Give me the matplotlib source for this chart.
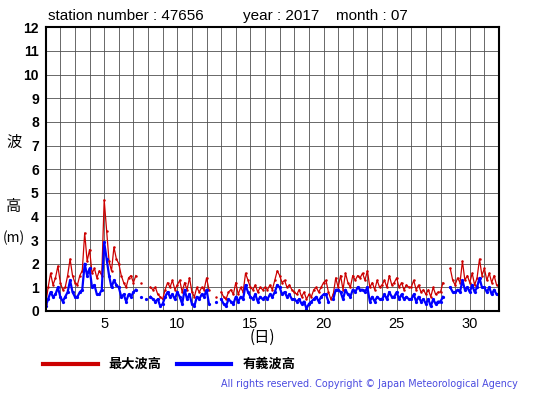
import numpy as np
import matplotlib
matplotlib.use('Agg')
import matplotlib.pyplot as plt

nan = np.nan

# 4-hourly samples, 6 per day, starting day 1 00h
max_wave = [
    0.3, 1.0, 1.6, 1.1, 1.4, 1.9,
    1.2, 0.9, 1.0, 1.5, 2.2, 1.5,
    1.2, 1.1, 1.5, 1.7, 3.3, 2.1,
    2.6, 1.6, 1.8, 1.4, 1.7, 1.5,
    4.7, 3.4, 2.1, 1.7, 2.7, 2.2,
    2.0, 1.5, 1.2, 1.0, 1.4, 1.5,
    1.2, 1.5, nan, 1.2, nan, nan,
    nan, 1.0, 0.9, 1.0, 0.7, 0.6,
    0.5, 0.9, 1.2, 1.0, 1.3, 0.9,
    1.1, 1.3, 0.8, 1.2, 0.9, 1.4,
    0.8, 0.6, 1.0, 0.8, 1.0, 0.9,
    1.4, 0.9, nan, nan, 0.6, nan,
    0.8, 0.6, 0.5, 0.8, 0.9, 0.7,
    1.2, 0.7, 1.0, 0.8, 1.6, 1.3,
    1.0, 0.9, 1.1, 0.8, 1.0, 0.9,
    1.0, 0.9, 1.1, 0.9, 1.3, 1.7,
    1.5, 1.2, 1.3, 1.0, 1.1, 0.9,
    0.8, 0.7, 0.9, 0.6, 0.8, 0.5,
    0.7, 0.6, 0.9, 1.0, 0.8, 1.0,
    1.2, 1.3, 0.8, 0.5, 0.7, 1.4,
    1.0, 1.5, 0.9, 1.6, 1.2, 1.0,
    1.5, 1.3, 1.5, 1.4, 1.6, 1.3,
    1.7, 1.0, 1.2, 0.9, 1.3, 1.0,
    1.1, 1.3, 1.0, 1.5, 1.1, 1.2,
    1.4, 1.0, 1.2, 0.9, 1.1, 1.0,
    1.0, 1.3, 0.9, 1.1, 0.8, 0.9,
    0.7, 0.9, 0.6, 1.0, 0.7, 0.8,
    0.8, 1.2, nan, nan, 1.8, 1.3,
    1.1, 1.4, 1.2, 2.1, 1.3, 1.5,
    1.2, 1.6, 1.1, 1.4, 2.2, 1.5,
    1.8, 1.3, 1.6, 1.2, 1.5, 1.1,
]
sig_wave = [
    0.2, 0.5, 0.8, 0.6, 0.7, 1.0,
    0.6, 0.4, 0.6, 0.8, 1.3, 0.8,
    0.6, 0.6, 0.8, 0.9, 2.0, 1.5,
    1.8, 1.0, 1.1, 0.7, 0.7, 0.9,
    2.9, 2.2, 1.5, 1.0, 1.3, 1.1,
    1.0, 0.6, 0.7, 0.4, 0.7, 0.6,
    0.8, 0.9, nan, 0.6, nan, 0.5,
    nan, 0.6, 0.5, 0.4, 0.5, 0.2,
    0.3, 0.6, 0.8, 0.6, 0.7, 0.5,
    0.8, 0.6, 0.3, 0.9, 0.5, 0.7,
    0.3, 0.2, 0.6, 0.5, 0.7, 0.6,
    0.9, 0.3, nan, nan, 0.4, nan,
    0.5, 0.3, 0.2, 0.5, 0.4, 0.3,
    0.6, 0.4, 0.6, 0.5, 1.1, 0.8,
    0.6, 0.5, 0.7, 0.4, 0.6, 0.5,
    0.6, 0.5, 0.7, 0.6, 0.8, 1.1,
    1.0, 0.7, 0.8, 0.6, 0.7, 0.5,
    0.5, 0.4, 0.5, 0.3, 0.4, 0.1,
    0.3, 0.4, 0.5, 0.6, 0.4, 0.6,
    0.7, 0.7, 0.4, nan, 0.5, 0.9,
    0.9, 0.8, 0.5, 0.9, 0.7, 0.6,
    0.9, 0.8, 1.0, 0.9, 0.9, 0.8,
    1.0, 0.4, 0.6, 0.4, 0.6, 0.5,
    0.5, 0.7, 0.5, 0.8, 0.6, 0.6,
    0.8, 0.5, 0.7, 0.5, 0.6, 0.5,
    0.5, 0.7, 0.4, 0.6, 0.4, 0.5,
    0.3, 0.5, 0.2, 0.5, 0.3, 0.4,
    0.4, 0.6, nan, nan, 1.0, 0.8,
    0.8, 0.9, 0.8, 1.3, 0.9, 1.0,
    0.8, 1.1, 0.8, 1.0, 1.4, 1.0,
    1.0, 0.8, 1.0, 0.7, 0.9, 0.7,
]
day_ticks = [5, 10, 15, 20, 25, 30]
height_ticks = list(range(13))

W, H = 555, 395
def fx(x):
    return x / W
def fy(y):
    return 1 - y / H

days = 1 + np.arange(len(max_wave)) / 6.0

fig = plt.figure(figsize=(5.55, 3.95), dpi=100)
ax = fig.add_axes([fx(45.7), fy(311), fx(499) - fx(45.7), fy(27.3) - fy(311)])

ax.plot(days, max_wave, color='#cc0000', lw=0.9, marker='o', ms=0.8)
ax.plot(days, sig_wave, color='#0000ff', lw=1.6, marker='o', ms=1.3)

ax.set_xlim(1, 32)
ax.set_ylim(0, 12)
ax.set_xticks(range(1, 33), minor=True)
ax.set_xticks(day_ticks)
ax.set_yticks(height_ticks)
ax.grid(True, which='both', color='#505050', lw=0.6)
ax.set_axisbelow(True)
ax.tick_params(which='both', length=0)
ax.tick_params(axis='x', pad=4, labelsize=10.5)
ax.tick_params(axis='y', pad=5, labelsize=10)
for lab in ax.get_yticklabels():
    lab.set_fontweight('bold')
for lab in ax.get_xticklabels() + ax.get_yticklabels():
    lab.set_family('Liberation Sans')
for s in ax.spines.values():
    s.set_linewidth(1.5)

tfont = dict(family='Liberation Sans', fontsize=11, va='center')
fig.text(fx(48), fy(16), 'station number : 47656', **tfont)
fig.text(fx(243), fy(16), 'year : 2017', **tfont)
fig.text(fx(336), fy(16), 'month : 07', **tfont)

jp = ['Noto Sans CJK JP', 'DejaVu Sans']
fig.text(fx(14), fy(142), '波', family=jp, fontsize=11, ha='center', va='center')
fig.text(fx(14), fy(207), '高', family=jp, fontsize=11, ha='center', va='center')
fig.text(fx(14), fy(238), '(m)', family=jp, fontsize=10, ha='center', va='center')
fig.text(fx(262), fy(337), '(日)', family=jp, fontsize=11, ha='center', va='center')

fig.add_artist(plt.Line2D([fx(43), fx(98)], [fy(364), fy(364)], color='#cc0000', lw=3))
fig.text(fx(108), fy(364), '最大波高', family=jp, fontsize=9.5, fontweight='bold', va='center')
fig.add_artist(plt.Line2D([fx(177), fx(231)], [fy(364), fy(364)], color='#0000ff', lw=3))
fig.text(fx(243), fy(364), '有義波高', family=jp, fontsize=9.5, fontweight='bold', va='center')

fig.text(fx(518), fy(384), 'All rights reserved. Copyright \u00a9 Japan Meteorological Agency',
         family='DejaVu Sans', fontsize=6.9, color='#4a4ae0', ha='right', va='center')

fig.savefig('out.png', dpi=100)
